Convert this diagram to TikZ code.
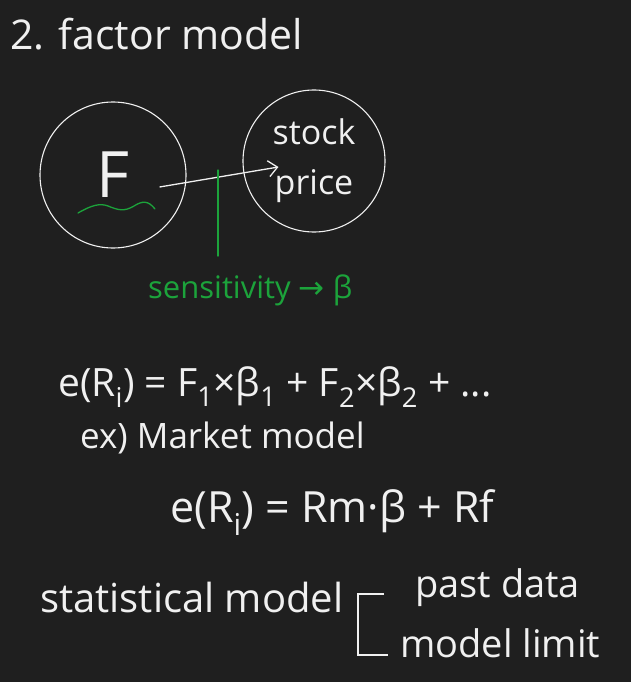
\documentclass[tikz,border=0pt]{standalone}
\usepackage{fontspec}
\setmainfont{Open Sans}
\newfontfamily\symfont{DejaVu Sans}
\usetikzlibrary{arrows.meta,positioning,calc}
\definecolor{board}{HTML}{1F1F1F}
\definecolor{chalk}{HTML}{F0F0F0}
\definecolor{marker}{HTML}{1CA33B}

\begin{document}
\begin{tikzpicture}[x=1pt,y=-1pt,
  every node/.style={text=chalk, inner sep=0pt},
  bubble/.style={circle, draw=chalk, line width=1.1pt, minimum size=146pt, align=center},
  hand/.style={font=\fontsize{#1}{#1}\selectfont, anchor=base west},
  arrow/.style={-{Straight Barb[length=9pt,width=16pt,line width=1.3pt]}, line width=1.3pt, draw=chalk},
  pen/.style={draw=marker, line width=1.3pt, line cap=round}
]
\fill[board] (0,0) rectangle (631,682);
\useasboundingbox (0,0) rectangle (631,682);

% title
\node[hand=41] (title) at (10,50) {2. factor model};

% factor -> price
\node[bubble, font=\fontsize{64}{64}\selectfont] (fac) at (113,175) {F};
\node[bubble, minimum size=142pt, font=\fontsize{34}{50}\selectfont] (stk) at (314,161) {stock\\price};
\draw[arrow] ([xshift=-27pt,yshift=-12pt]fac.east) -- ([xshift=36pt,yshift=-6pt]stk.west);
\draw[pen] (78,213) .. controls (92,205) and (100,203) .. (108,206)
  .. controls (118,210) and (124,212) .. (134,206) .. controls (142,201) and (148,200) .. (155,209);

% sensitivity
\coordinate (tick) at (218,170);
\node[hand=31, text=marker] (sens) at (148,298) {sensitivity {\symfont→} β};
\draw[pen] (tick) -- ([yshift=18pt]sens.north -| tick);

% equations
\node[hand=39] (eq1) at (58,396) {e(R\textsubscript{i}) = F\textsubscript{1}×β\textsubscript{1} + F\textsubscript{2}×β\textsubscript{2} + ...};
\node[hand=35] (ex) at (80,448) {ex) Market model};
\node[hand=43] (eq2) at (170,522) {e(R\textsubscript{i}) = Rm·β + Rf};

% statistical model
\node[hand=40] (stat) at (40,612) {statistical model};
\node[hand=38] (past) at (415,597) {past data};
\node[hand=38] (limit) at (400,657) {model limit};
\coordinate (brtop) at (358,594);
\coordinate (brbot) at (358,655);
\draw[chalk, line width=1.3pt] ([xshift=26pt]brtop) -- (brtop) -- (brbot) -- ([xshift=30pt]brbot);
\end{tikzpicture}
\end{document}
